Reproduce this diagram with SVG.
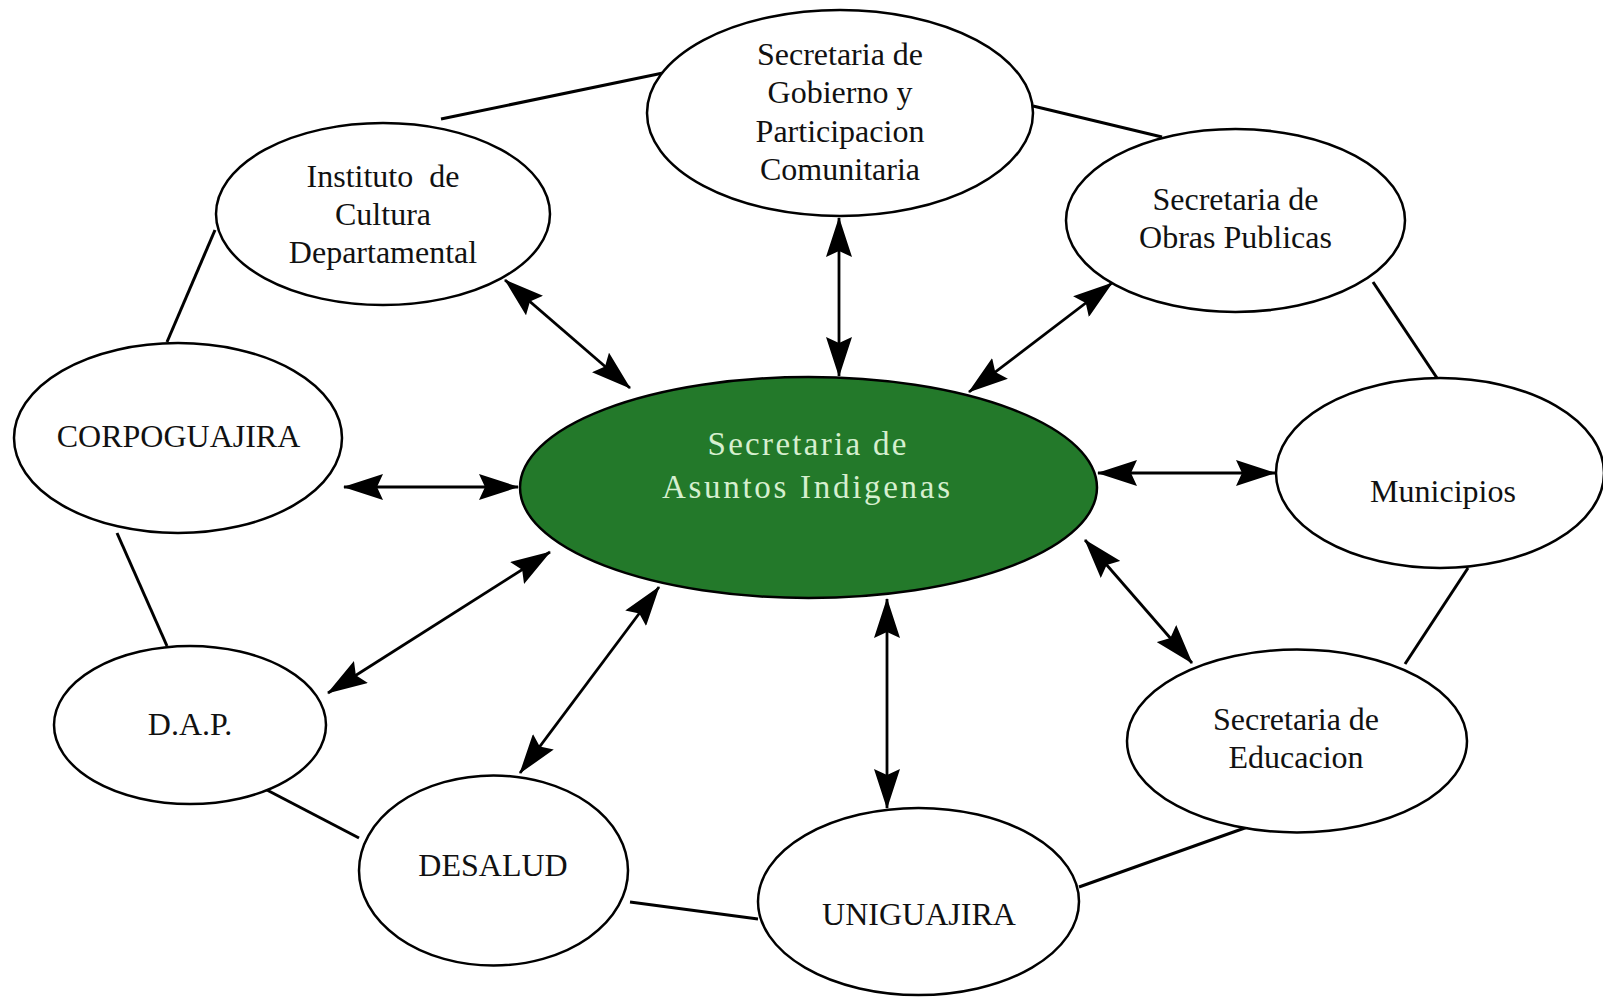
<svg xmlns="http://www.w3.org/2000/svg" width="1603" height="997" viewBox="0 0 1603 997">
<style>
.node{fill:#fff;stroke:#000;stroke-width:2.5}
.core{fill:#23792a;stroke:#000;stroke-width:2.5}
.lbl{font-family:"Liberation Serif","Times New Roman",serif;font-size:32px;fill:#111;text-anchor:middle}
.clbl{font-family:"Liberation Serif","Times New Roman",serif;font-size:33px;fill:#d6efcf;text-anchor:middle}
.ring{stroke:#000;stroke-width:3;fill:none}
.arr{stroke:#000;stroke-width:2.8;fill:none;marker-start:url(#ah);marker-end:url(#ah)}
</style>
<defs>
<marker id="ah" markerUnits="userSpaceOnUse" viewBox="0 0 40 26" markerWidth="40" markerHeight="26" refX="39" refY="13" orient="auto-start-reverse">
<path d="M0,0 L40,13 L0,26 L6,13 z" fill="#000"/>
</marker>
</defs>
<rect width="1603" height="997" fill="#fff"/>
<g id="connectors">
<line class="ring" x1="441" y1="119" x2="663" y2="73"/>
<line class="ring" x1="1033" y1="106" x2="1162" y2="137"/>
<line class="ring" x1="1373" y1="282" x2="1437" y2="378"/>
<line class="ring" x1="1468" y1="568" x2="1405" y2="664"/>
<line class="ring" x1="1256" y1="824" x2="1079" y2="887"/>
<line class="ring" x1="758" y1="919" x2="630" y2="902"/>
<line class="ring" x1="359" y1="838" x2="265" y2="789"/>
<line class="ring" x1="167" y1="646" x2="117" y2="533"/>
<line class="ring" x1="167" y1="342" x2="215" y2="230"/>
<line class="arr" x1="505" y1="280" x2="630" y2="388"/>
<line class="arr" x1="839" y1="218" x2="839" y2="376"/>
<line class="arr" x1="1112" y1="283" x2="969" y2="392"/>
<line class="arr" x1="344" y1="487" x2="518" y2="487"/>
<line class="arr" x1="1098" y1="473" x2="1275" y2="473"/>
<line class="arr" x1="328" y1="693" x2="550" y2="552"/>
<line class="arr" x1="520" y1="773" x2="659" y2="587"/>
<line class="arr" x1="887" y1="599" x2="887" y2="808"/>
<line class="arr" x1="1085" y1="540" x2="1192" y2="663"/>
</g>
<g id="core">
<ellipse class="core" cx="808.5" cy="487.5" rx="288.5" ry="110.5"/>
<text class="clbl" x="807" y="455" textLength="199" lengthAdjust="spacing">Secretaria de</text>
<text class="clbl" x="806" y="498" textLength="288" lengthAdjust="spacing">Asuntos Indigenas</text>
</g>
<g id="gobierno">
<ellipse class="node" cx="840" cy="113" rx="193" ry="103"/>
<text class="lbl" x="840" y="65">Secretaria de</text>
<text class="lbl" x="840" y="103">Gobierno y</text>
<text class="lbl" x="840" y="142">Participacion</text>
<text class="lbl" x="840" y="180">Comunitaria</text>
</g>
<g id="instituto">
<ellipse class="node" cx="383" cy="214" rx="167" ry="91"/>
<text class="lbl" x="383" y="187" xml:space="preserve">Instituto  de</text>
<text class="lbl" x="383" y="225">Cultura</text>
<text class="lbl" x="383" y="263">Departamental</text>
</g>
<g id="obras">
<ellipse class="node" cx="1235.5" cy="220.5" rx="169.5" ry="91.5"/>
<text class="lbl" x="1235.5" y="210">Secretaria de</text>
<text class="lbl" x="1235.5" y="248">Obras Publicas</text>
</g>
<g id="corpoguajira">
<ellipse class="node" cx="178" cy="438" rx="164" ry="95"/>
<text class="lbl" x="178.5" y="447">CORPOGUAJIRA</text>
</g>
<g id="municipios">
<ellipse class="node" cx="1440" cy="473" rx="164" ry="95"/>
<text class="lbl" x="1443" y="502">Municipios</text>
</g>
<g id="dap">
<ellipse class="node" cx="190" cy="725" rx="136" ry="79"/>
<text class="lbl" x="190" y="735">D.A.P.</text>
</g>
<g id="desalud">
<ellipse class="node" cx="493.5" cy="870.5" rx="134.5" ry="95"/>
<text class="lbl" x="493" y="876">DESALUD</text>
</g>
<g id="uniguajira">
<ellipse class="node" cx="918.5" cy="901.5" rx="160.5" ry="93.5"/>
<text class="lbl" x="919" y="925">UNIGUAJIRA</text>
</g>
<g id="educacion">
<ellipse class="node" cx="1297" cy="741" rx="170" ry="91.5"/>
<text class="lbl" x="1296" y="730">Secretaria de</text>
<text class="lbl" x="1296" y="768">Educacion</text>
</g>
</svg>
